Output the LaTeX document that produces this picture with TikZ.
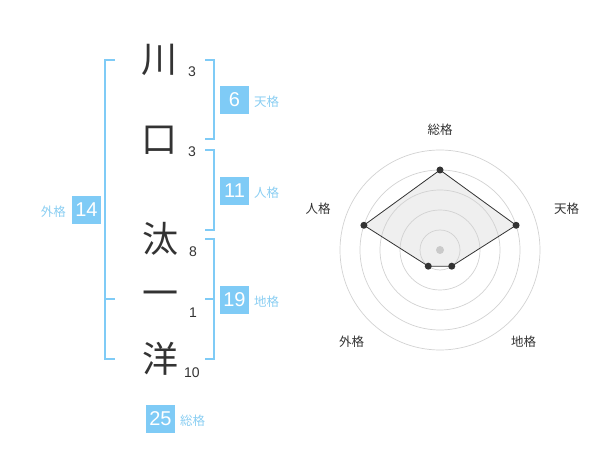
\documentclass[tikz,border=0pt]{standalone}
\usepackage{fontspec}
\setmainfont{Liberation Sans}
\newfontfamily\jfont{Noto Sans CJK JP}
\usetikzlibrary{calc}
\definecolor{kakublue}{HTML}{7FCBF6}
\definecolor{kakutext}{HTML}{8ACEF2}
\definecolor{inkgray}{HTML}{333333}
\definecolor{ringgray}{HTML}{D2D2D2}
\definecolor{areagray}{HTML}{EFEFEF}

\begin{document}
\begin{tikzpicture}[x=1pt,y=-1pt,
  kanji/.style={font=\jfont\fontsize{36}{36}\selectfont,text=inkgray,inner sep=0},
  strokes/.style={font=\fontsize{14}{14}\selectfont,text=inkgray,inner sep=0},
  kakubox/.style={fill=kakublue,text=white,minimum width=29,minimum height=28,inner sep=0,font=\fontsize{20}{20}\selectfont},
  kakuname/.style={text=kakutext,font=\jfont\fontsize{12.5}{12.5}\selectfont,inner sep=0},
  bracket/.style={draw=kakublue,line width=2},
  axislabel/.style={text=inkgray,font=\jfont\fontsize{12.5}{12.5}\selectfont,inner sep=0},
  ring/.style={draw=ringgray,line width=0.7},
  dot/.style={circle,fill=inkgray,inner sep=0,minimum size=7}]
\useasboundingbox (0,0) rectangle (600,470);
%\draw[step=10,gray,very thin] (0,0) grid (600,470);

% name characters
\node[kanji] (c1) at (159,60)  {川};
\node[kanji] (c2) at (159,140) {口};
\node[kanji] (c3) at (160,239) {汰};
\node[kanji] (c4) at (160,299) {一};
\node[kanji] (c5) at (160,359) {洋};
\node[strokes] (s1) at (192,72)  {3};
\node[strokes] (s2) at (192,152) {3};
\node[strokes] (s3) at (193,252) {8};
\node[strokes] (s4) at (193,313) {1};
\node[strokes] (s5) at (192,373) {10};

% brackets
\draw[bracket] (115,60)--(105,60)--(105,359)--(115,359);
\draw[bracket] (105,299)--(115,299);
\draw[bracket] (205,60)--(214,60)--(214,139)--(205,139);
\draw[bracket] (205,150)--(214,150)--(214,230)--(205,230);
\draw[bracket] (205,239)--(214,239)--(214,359)--(205,359);
\draw[bracket] (214,299)--(205,299);

% kaku boxes
\node[kakubox] (ten) at (234.5,100) {6};
\node[kakubox] (jin) at (234.5,191) {11};
\node[kakubox] (chi) at (234.5,300) {19};
\node[kakubox] (gai) at (86.5,210)  {14};
\node[kakubox] (sou) at (160.5,419) {25};
\node[kakuname,anchor=west] at (254,102) {天格};
\node[kakuname,anchor=west] at (254,193) {人格};
\node[kakuname,anchor=west] at (254,302) {地格};
\node[kakuname,anchor=east] at (66,212)  {外格};
\node[kakuname,anchor=west] at (180,421) {総格};

% radar chart
\coordinate (o) at (440,250);
\coordinate (psou) at ($(o)+(-90:80)$);
\coordinate (pten) at ($(o)+(-18:80)$);
\coordinate (pchi) at ($(o)+(54:20)$);
\coordinate (pgai) at ($(o)+(126:20)$);
\coordinate (pjin) at ($(o)+(198:80)$);
\fill[areagray] (psou)--(pten)--(pchi)--(pgai)--(pjin)--cycle;
\foreach \r in {20,40,...,100}
  \draw[ring] (o) circle (\r);
\fill[ringgray!90!gray] (o) circle (4);
\draw[inkgray,line width=0.8] (psou)--(pten)--(pchi)--(pgai)--(pjin)--cycle;
\foreach \p in {psou,pten,pchi,pgai,pjin}
  \node[dot] at (\p) {};
\node[axislabel] (lsou) at (440,130)   {総格};
\node[axislabel] (lten) at (566.5,209) {天格};
\node[axislabel] (ljin) at (318,209)   {人格};
\node[axislabel] (lgai) at (351.5,342) {外格};
\node[axislabel] (lchi) at (523.5,342) {地格};
\end{tikzpicture}
\end{document}
